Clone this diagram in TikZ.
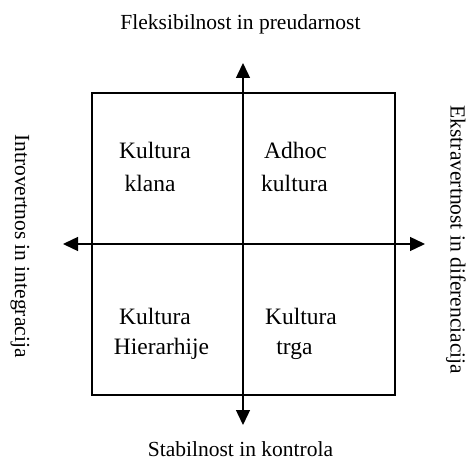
\documentclass[tikz,border=0pt]{standalone}
\usepackage{fontspec}
\setmainfont{Liberation Serif}
\usetikzlibrary{arrows.meta}
\begin{document}
\begin{tikzpicture}[x=1pt,y=-1pt,
  lbl/.style={inner sep=0pt,font=\fontsize{21.5}{30}\selectfont},
  ln/.style={lbl,anchor=base},
  qn/.style={inner sep=0pt,anchor=base,font=\fontsize{23.5}{30}\selectfont},
  axis/.style={line width=1.4pt,-{Triangle[length=15pt,width=14pt]}},
  frame/.style={draw,line width=1.4pt}]
\useasboundingbox (0,0) rectangle (467,460);
\node[frame,minimum width=303pt,minimum height=302pt,inner sep=0pt] (box) at (243.5,244) {};
\coordinate (c) at (243,244);
\coordinate (top) at (243,63);
\coordinate (bot) at (243,425);
\coordinate (lft) at (63,244);
\coordinate (rgt) at (425,244);
\draw[axis] (c) -- (top);
\draw[axis] (c) -- (bot);
\draw[axis] (c) -- (lft);
\draw[axis] (c) -- (rgt);
\node[ln] (t) at (240.5,30) {Fleksibilnost in preudarnost};
\node[ln] (b) at (240.5,456) {Stabilnost in kontrola};
\node[lbl,rotate=-90] (l) at (20,246) {Introvertnos in integracija};
\node[lbl,rotate=-90] (r) at (456,240) {Ekstravertnost in diferenciacija};
\node[qn] (q1a) at (155,159) {Kultura};
\node[qn] (q1b) at (150,192) {klana};
\node[qn] (q2a) at (295.5,159) {Adhoc};
\node[qn] (q2b) at (294.5,192) {kultura};
\node[qn] (q3a) at (155,325) {Kultura};
\node[qn] (q3b) at (161.5,355) {Hierarhije};
\node[qn] (q4a) at (301,325) {Kultura};
\node[qn] (q4b) at (294.5,355) {trga};
\end{tikzpicture}
\end{document}
